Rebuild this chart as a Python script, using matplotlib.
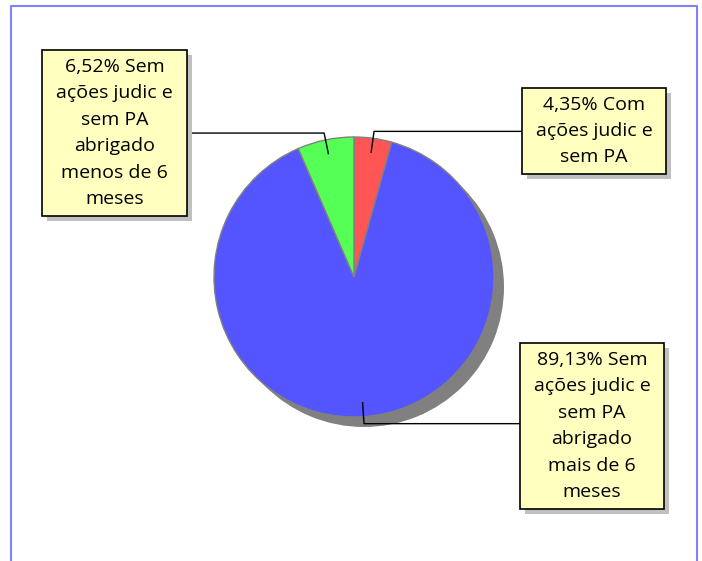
import numpy as np
import matplotlib
matplotlib.use("Agg")
import matplotlib.pyplot as plt
from matplotlib.patches import Rectangle

plt.rcParams["font.family"] = ["Open Sans", "DejaVu Sans"]

# Data
values = [4.35, 89.13, 6.52]
colors = ["#FF5555", "#5555FF", "#55FF55"]
labels = [
    "4,35% Com\nações judic e\nsem PA",
    "89,13% Sem\nações judic e\nsem PA\nabrigado\nmais de 6\nmeses",
    "6,52% Sem\nações judic e\nsem PA\nabrigado\nmenos de 6\nmeses",
]
# label boxes (left, top, width, height) in pixels
boxes = [(522, 88, 144, 86), (520, 343, 144, 166), (42, 50, 145, 166)]

W, H = 702, 561
cx, cy, R = 354, 277, 140

fig = plt.figure(figsize=(W / 100, H / 100), dpi=100)
ax = fig.add_axes([0, 0, 1, 1])

# frame
ax.plot([11, 11, 697, 697], [0, H - 6, H - 6, 0], color="#8080FF", lw=1.5)

# pie shadow
ax.pie([1], colors=["#808080"], center=(cx + 10, H - cy - 10), radius=R,
       wedgeprops=dict(linewidth=0))
wedges, _ = ax.pie(values, colors=colors, startangle=90, counterclock=False,
                   center=(cx, H - cy), radius=R,
                   wedgeprops=dict(edgecolor="#808080", linewidth=1))

for w, lab, (bx, by, bw, bh) in zip(wedges, labels, boxes):
    mid = np.deg2rad((w.theta1 + w.theta2) / 2)
    x0, y0 = cx + 0.9 * R * np.cos(mid), H - cy + 0.9 * R * np.sin(mid)
    x1, y1 = cx + 1.05 * R * np.cos(mid), H - cy + 1.05 * R * np.sin(mid)
    xe = bx if bx > cx else bx + bw
    ax.plot([x0, x1, xe], [y0, y1, y1], color="black", lw=1, zorder=3)
    ax.add_patch(Rectangle((bx + 5, H - by - bh - 5), bw, bh,
                           facecolor="#C0C0C0", edgecolor="none", zorder=4))
    ax.add_patch(Rectangle((bx, H - by - bh), bw, bh,
                           facecolor="#FFFFC0", edgecolor="black", lw=1.2, zorder=5))
    ax.text(bx + bw / 2, H - by - bh / 2, lab, ha="center", va="center",
            multialignment="center", fontsize=14, linespacing=1.6, zorder=6)

ax.set_xlim(0, W)
ax.set_ylim(0, H)
ax.set_aspect("equal")
ax.axis("off")

fig.savefig("out.png", dpi=100)
